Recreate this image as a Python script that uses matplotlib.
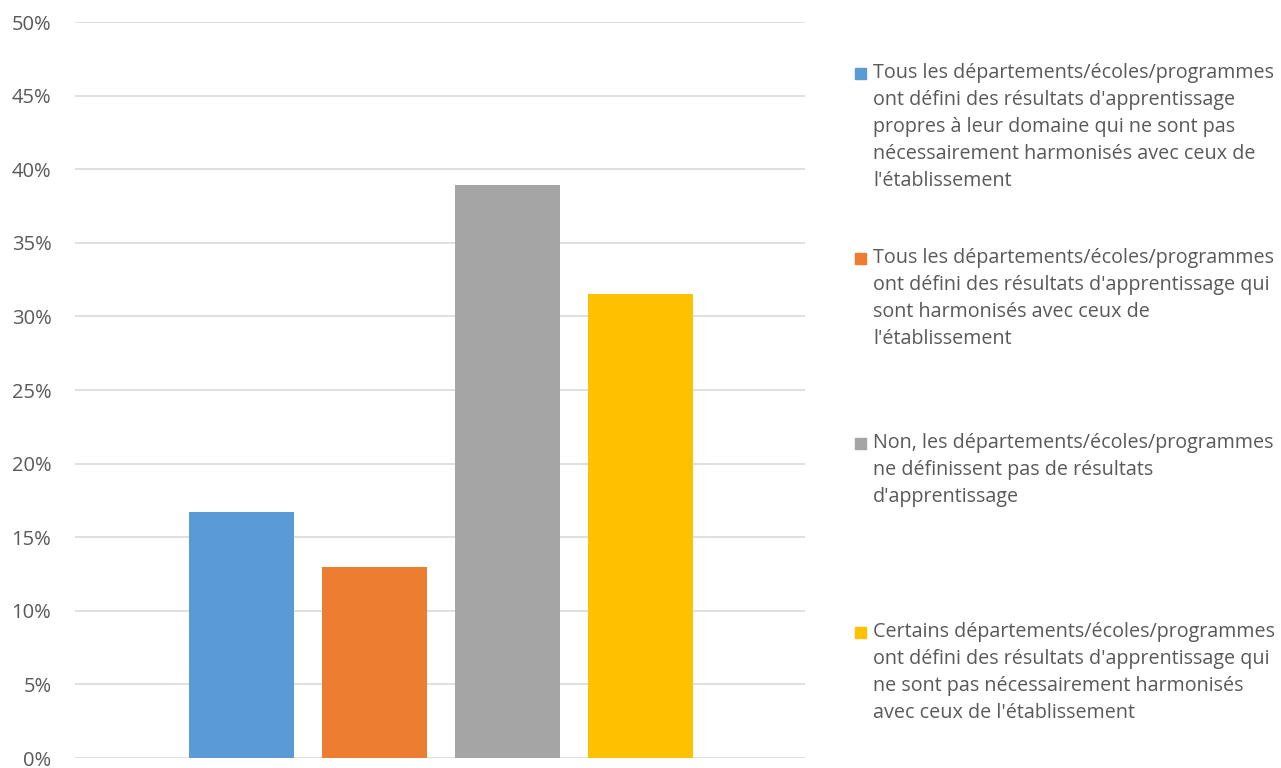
import matplotlib.pyplot as plt
from matplotlib.patches import Rectangle
from matplotlib.ticker import PercentFormatter

plt.rcParams["font.family"] = ["Open Sans", "DejaVu Sans"]

TEXT_COLOR = "#595959"
GRID_COLOR = "#d9d9d9"

values = [16.7, 12.95, 38.9, 31.5]
colors = ["#5B9BD5", "#ED7D31", "#A5A5A5", "#FFC000"]
labels = [
    ["Tous les départements/écoles/programmes",
     "ont défini des résultats d'apprentissage",
     "propres à leur domaine qui ne sont pas",
     "nécessairement harmonisés avec ceux de",
     "l'établissement"],
    ["Tous les départements/écoles/programmes",
     "ont défini des résultats d'apprentissage qui",
     "sont harmonisés avec ceux de",
     "l'établissement"],
    ["Non, les départements/écoles/programmes",
     "ne définissent pas de résultats",
     "d'apprentissage"],
    ["Certains départements/écoles/programmes",
     "ont défini des résultats d'apprentissage qui",
     "ne sont pas nécessairement harmonisés",
     "avec ceux de l'établissement"],
]
yticks = list(range(0, 51, 5))

W, H = 1281, 768
fig = plt.figure(figsize=(W / 100, H / 100), dpi=100)
ax = fig.add_axes([75 / W, 10 / H, 730 / W, 736 / H])

x = list(range(len(values)))
ax.bar(x, values, width=0.79, color=colors, zorder=3)
ax.set_xlim(-1.25, 4.24)
ax.set_ylim(0, 50)
ax.set_yticks(yticks)
ax.yaxis.set_major_formatter(PercentFormatter(decimals=0))
ax.set_xticks([])
ax.grid(axis="y", color=GRID_COLOR, linewidth=1.2, zorder=0)
for s in ax.spines.values():
    s.set_visible(False)
ax.tick_params(axis="y", length=0, pad=17, labelsize=14.5, labelcolor=TEXT_COLOR)

# legend drawn by hand so the entries sit at even spacing like the original
entry_tops = [73, 258, 443, 632]
line_step = 27
for top, lines, c in zip(entry_tops, labels, colors):
    fig.patches.append(Rectangle((855 / W, 1 - (top + 6) / H), 11 / W, 11 / H,
                                 transform=fig.transFigure, color=c))
    for i, line in enumerate(lines):
        fig.text(873 / W, 1 - (top + i * line_step) / H, line, fontsize=14.2,
                 color=TEXT_COLOR, va="center", ha="left")

fig.savefig("out.png", dpi=100)
